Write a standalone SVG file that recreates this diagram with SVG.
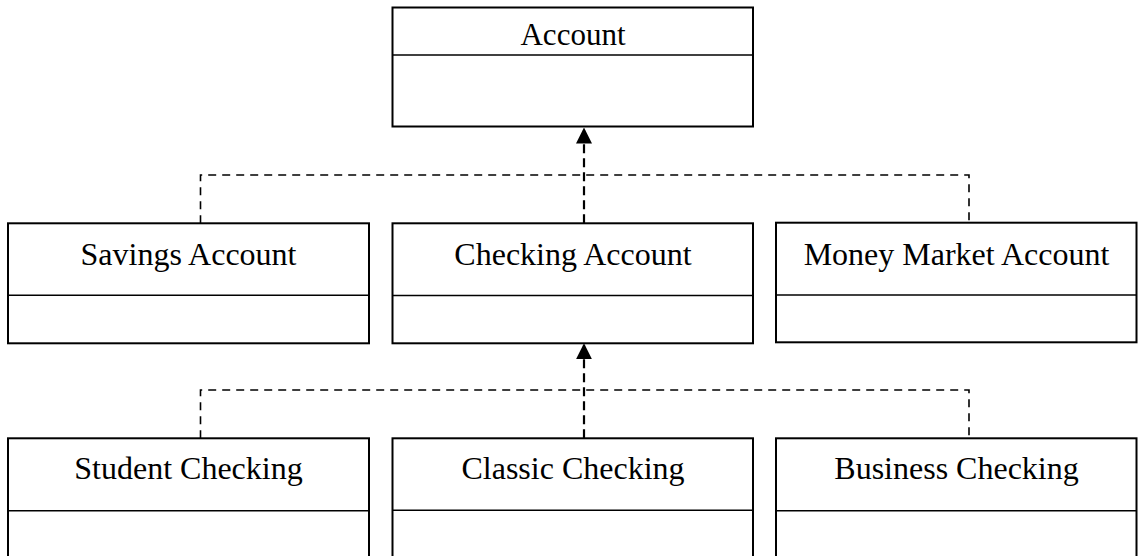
<svg xmlns="http://www.w3.org/2000/svg" width="1139" height="556" viewBox="0 0 1139 556">
  <style>
    .box { fill: #ffffff; stroke: #000000; stroke-width: 2; }
    .div { fill: none; stroke: #000000; stroke-width: 1.6; }
    .label { font-family: "Liberation Serif", "Times New Roman", serif; font-size: 32px; fill: #000000; text-anchor: middle; }
    .bus { fill: none; stroke: #000000; stroke-width: 1.6; stroke-dasharray: 8 6; }
    .gen { fill: none; stroke: #000000; stroke-width: 2.2; stroke-dasharray: 9 5; marker-end: url(#tri); }
  </style>
  <defs>
    <marker id="tri" viewBox="0 0 16 16" refX="16" refY="8" markerWidth="16" markerHeight="16" markerUnits="userSpaceOnUse" orient="auto">
      <path d="M0,0 L16,8 L0,16 z" fill="#000000"/>
    </marker>
    <clipPath id="accountClip">
      <rect x="392" y="8" width="361" height="37.6"/>
    </clipPath>
  </defs>
  <rect width="1139" height="556" fill="#ffffff"/>

  <!-- generalization connectors -->
  <g id="connectors">
    <path class="bus" d="M200.5 223.3 V175 H969 V222.7"/>
    <path class="gen" d="M584 223.3 V127.5"/>
    <path class="bus" d="M200.5 438.3 V390 H969 V438.3"/>
    <path class="gen" d="M584 438.3 V343.3"/>
  </g>

  <!-- base class -->
  <g id="account">
    <rect class="box" x="392.5" y="7.5" width="360.5" height="119"/>
    <line class="div" x1="392.5" y1="55" x2="753" y2="55"/>
    <text class="label" x="573" y="45" font-size="31" style="font-size:31px" clip-path="url(#accountClip)">Account</text>
  </g>

  <!-- second level -->
  <g id="savings-account">
    <rect class="box" x="8" y="223.3" width="361" height="120"/>
    <line class="div" x1="8" y1="295.3" x2="369" y2="295.3"/>
    <text class="label" x="188.5" y="264.5">Savings Account</text>
  </g>
  <g id="checking-account">
    <rect class="box" x="392.5" y="223.3" width="360.5" height="120"/>
    <line class="div" x1="392.5" y1="295.5" x2="753" y2="295.5"/>
    <text class="label" x="573" y="264.5">Checking Account</text>
  </g>
  <g id="money-market-account">
    <rect class="box" x="776" y="222.7" width="360.5" height="119.6"/>
    <line class="div" x1="776" y1="295" x2="1136.5" y2="295"/>
    <text class="label" x="956.5" y="264.5">Money Market Account</text>
  </g>

  <!-- third level -->
  <g id="student-checking">
    <rect class="box" x="8" y="438.3" width="361" height="130"/>
    <line class="div" x1="8" y1="510.7" x2="369" y2="510.7"/>
    <text class="label" x="188.5" y="479">Student Checking</text>
  </g>
  <g id="classic-checking">
    <rect class="box" x="392.5" y="438.3" width="360.5" height="130"/>
    <line class="div" x1="392.5" y1="510.3" x2="753" y2="510.3"/>
    <text class="label" x="573" y="479">Classic Checking</text>
  </g>
  <g id="business-checking">
    <rect class="box" x="776" y="438.3" width="360.5" height="130"/>
    <line class="div" x1="776" y1="510.7" x2="1136.5" y2="510.7"/>
    <text class="label" x="956.5" y="479">Business Checking</text>
  </g>
</svg>
